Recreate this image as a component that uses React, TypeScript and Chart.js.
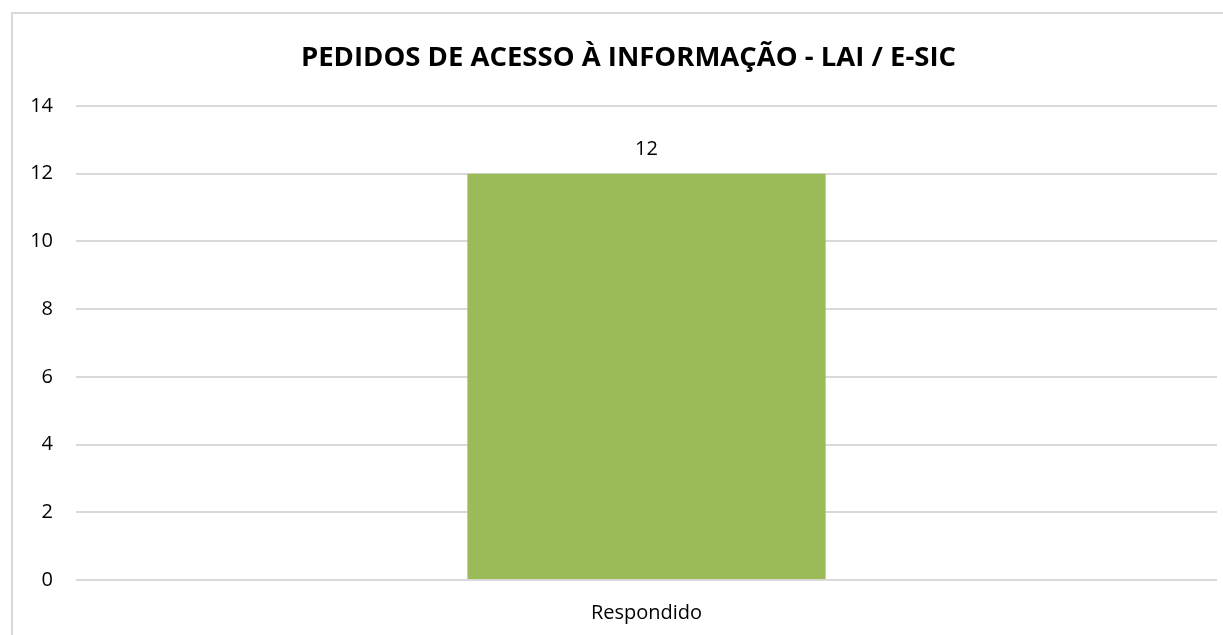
import React, { useEffect, useRef } from "react";
import { Chart, registerables } from "chart.js";

Chart.register(...registerables);

const TITLE = "PEDIDOS DE ACESSO À INFORMAÇÃO - LAI / E-SIC";
const categories = ["Respondido"];
const values = [12];
const yMin = 0;
const yMax = 14;
const yStep = 2;

const FONT = "'Open Sans', 'Noto Sans', sans-serif";
const TITLE_SIZE = 27.5;
const TITLE_PAD_TOP = 42;
const TITLE_SHIFT_X = 20;

const dataLabels = {
  id: "dataLabels",
  afterDatasetsDraw(chart: any) {
    const ctx = chart.ctx;
    const meta = chart.getDatasetMeta(0);
    ctx.save();
    ctx.font = `20px ${FONT}`;
    ctx.fillStyle = "#000000";
    ctx.textAlign = "center";
    ctx.textBaseline = "middle";
    meta.data.forEach((el: any, i: number) => {
      ctx.fillText(String(values[i]), el.x, el.y - 24);
    });
    ctx.restore();
  },
};

const shiftedTitle = {
  id: "shiftedTitle",
  afterDraw(chart: any) {
    const tb = chart.titleBlock;
    if (!tb) return;
    const ctx = chart.ctx;
    ctx.save();
    ctx.font = `bold ${TITLE_SIZE}px ${FONT}`;
    ctx.fillStyle = "#000000";
    ctx.textAlign = "center";
    ctx.textBaseline = "middle";
    const cx = (tb.left + tb.right) / 2 + TITLE_SHIFT_X;
    const cy = tb.top + TITLE_PAD_TOP + (TITLE_SIZE * 1.2) / 2;
    ctx.fillText(TITLE, cx, cy);
    ctx.restore();
  },
};

export default function App() {
  const ref = useRef<HTMLCanvasElement | null>(null);
  useEffect(() => {
    if (!ref.current) return;
    const chart = new Chart(ref.current, {
      type: "bar",
      data: {
        labels: categories,
        datasets: [
          {
            data: values,
            backgroundColor: "#9BBB59",
            barPercentage: 0.314,
            categoryPercentage: 1,
          },
        ],
      },
      options: {
        animation: false,
        responsive: false,
        maintainAspectRatio: false,
        layout: { padding: { left: 0, right: 6, top: 0, bottom: 0 } },
        plugins: {
          legend: { display: false },
          tooltip: { enabled: false },
          title: {
            display: true,
            text: TITLE,
            color: "rgba(0,0,0,0)",
            font: { family: FONT, size: TITLE_SIZE, weight: "bold" },
            padding: { top: TITLE_PAD_TOP, bottom: 31 },
          },
        },
        scales: {
          x: {
            grid: { display: false },
            border: { display: false },
            ticks: { color: "#000000", font: { family: FONT, size: 20 }, padding: 13 },
            afterFit(scale: any) {
              scale.height = 55;
            },
          },
          y: {
            min: yMin,
            max: yMax,
            ticks: { stepSize: yStep, color: "#000000", font: { family: FONT, size: 20 }, padding: 23 },
            grid: { color: "#d9d9d9", lineWidth: 2, drawTicks: false },
            border: { display: false },
            afterFit(scale: any) {
              scale.width = 76;
            },
          },
        },
      },
      plugins: [dataLabels, shiftedTitle],
    });
    return () => chart.destroy();
  }, []);
  return (
    <div style={{ position: "fixed", left: 0, top: 0, width: 1223, height: 635, background: "#fff", overflow: "hidden" }}>
      <div
        style={{
          position: "absolute",
          left: 11,
          top: 12,
          width: 1240,
          height: 660,
          border: "2px solid #d9d9d9",
          boxSizing: "border-box",
        }}
      />
      <canvas ref={ref} width={1223} height={635} style={{ position: "absolute", left: 0, top: 0 }} />
    </div>
  );
}
